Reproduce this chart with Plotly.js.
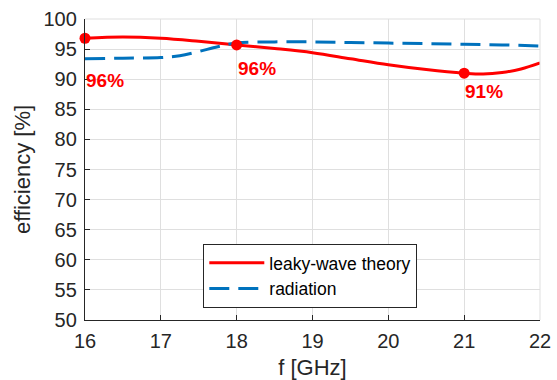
<!DOCTYPE html>
<html><head><meta charset="utf-8">
<script src="https://cdn.plot.ly/plotly-3.0.1.min.js"></script>
<style>html,body{margin:0;padding:0;background:#fff}</style>
</head><body><div id="chart" style="width:557px;height:380px"></div>
<script>
const freqTheory = [16, 16.5, 17, 17.5, 18, 18.5, 19, 19.5, 20, 20.5, 21, 21.25, 21.5, 21.75, 22];
const effTheory  = [96.8, 97.0, 96.8, 96.3, 95.7, 95.1, 94.4, 93.4, 92.4, 91.6, 91.0, 90.85, 91.1, 91.7, 92.7];
const freqRad = [16, 16.5, 17, 17.25, 17.5, 17.75, 18, 18.5, 19, 19.5, 20, 20.5, 21, 21.5, 22];
const effRad  = [93.4, 93.5, 93.6, 93.9, 94.6, 95.4, 96.0, 96.2, 96.2, 96.1, 96.0, 95.9, 95.8, 95.7, 95.5];
const markFreq = [16, 18, 21];
const markEff = [96.8, 95.7, 91.0];
const markLabels = ['96%', '96%', '91%'];
const xTicks = [16, 17, 18, 19, 20, 21, 22];
const yTicks = [50, 55, 60, 65, 70, 75, 80, 85, 90, 95, 100];

const red = '#ff0000', blue = '#0072bd';
const FONT = 'Liberation Sans, Arial, sans-serif';
const traces = [
  {x: freqTheory, y: effTheory, mode: 'lines', name: 'leaky-wave theory', cliponaxis: false,
   line: {color: red, width: 3, shape: 'spline'}},
  {x: freqRad, y: effRad, mode: 'lines', name: 'radiation', cliponaxis: false,
   line: {color: blue, width: 3, dash: '20px,9px', shape: 'spline'}},
  {x: markFreq, y: markEff, mode: 'markers', showlegend: false, cliponaxis: false,
   marker: {color: red, size: 11}}
];
const labelShift = [-42, -24, -18];
const annotations = markFreq.map((f, i) => ({
  x: f, y: markEff[i], text: '<b>' + markLabels[i] + '</b>', showarrow: false,
  xanchor: 'left', yanchor: 'middle', yshift: labelShift[i], xshift: -1,
  font: {color: red, size: 19, family: FONT}
}));
const layout = {
  width: 557, height: 380,
  margin: {l: 85, r: 17, t: 19, b: 60},
  paper_bgcolor: '#fff', plot_bgcolor: '#fff',
  font: {family: FONT, color: '#262626', size: 20},
  xaxis: {range: [16, 22], tickvals: xTicks, ticks: 'inside', ticklen: 5, tickcolor: '#262626',
    showline: true, linecolor: '#262626', linewidth: 1.2, mirror: false, ticklabelstandoff: 3,
    showgrid: true, gridcolor: '#dfdfdf', gridwidth: 1, zeroline: false,
    title: {text: 'f [GHz]', font: {size: 22}, standoff: 10}, tickfont: {size: 20}},
  yaxis: {range: [50, 100], tickvals: yTicks, ticks: 'inside', ticklen: 5, tickcolor: '#262626',
    showline: true, linecolor: '#262626', linewidth: 1.2, mirror: false, ticklabelstandoff: 3,
    showgrid: true, gridcolor: '#dfdfdf', gridwidth: 1, zeroline: false,
    title: {text: 'efficiency [%]', font: {size: 22}, standoff: 6}, tickfont: {size: 20}},
  shapes: [
    {type: 'line', xref: 'paper', yref: 'paper', x0: 0, x1: 1, y0: 1, y1: 1, line: {color: '#dfdfdf', width: 1}},
    {type: 'line', xref: 'paper', yref: 'paper', x0: 1, x1: 1, y0: 0, y1: 1, line: {color: '#dfdfdf', width: 1}}
  ],
  legend: {x: 0.26, y: 0.04, xanchor: 'left', yanchor: 'bottom', bgcolor: '#fff',
    bordercolor: '#262626', borderwidth: 1, font: {size: 17.5, color: '#000', family: FONT},
    tracegroupgap: 0, itemwidth: 55},
  annotations: annotations,
  showlegend: true
};
Plotly.newPlot('chart', traces, layout, {displayModeBar: false, staticPlot: true});
</script></body></html>
